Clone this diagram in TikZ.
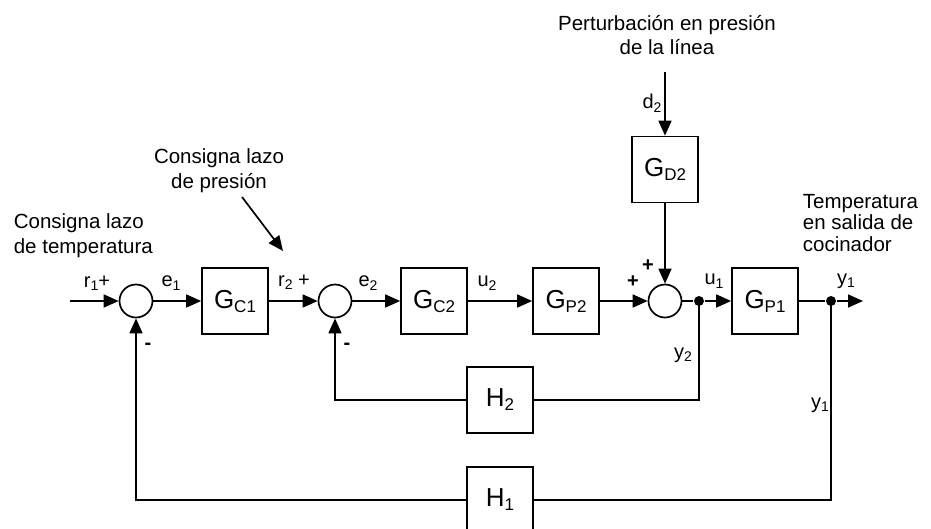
\documentclass[tikz,border=0pt]{standalone}
\usepackage{fontspec}
\setmainfont{Liberation Sans}
\usetikzlibrary{arrows.meta}
\newcommand\blklabel[2]{{\fontsize{26}{26}\selectfont #1}\raisebox{-4pt}{\fontsize{17}{17}\selectfont #2}}
\newcommand\siglabel[2]{{\fontsize{20}{20}\selectfont #1}\raisebox{-3.5pt}{\fontsize{14}{14}\selectfont #2}}
\begin{document}
\begin{tikzpicture}[x=1pt,y=-1pt, line width=1.7pt,
 blockbox/.style={draw, minimum width=66pt, minimum height=66pt, inner sep=0pt},
 sumnode/.style={draw, circle, minimum size=33pt, inner sep=0pt},
 dotnode/.style={circle, fill, minimum size=10pt, inner sep=0pt},
 arr/.style={-{Triangle[length=15pt,width=13pt]}},
 lbl/.style={inner sep=0pt, font=\fontsize{20}{20}\selectfont},
 txt/.style={inner sep=0pt, font=\fontsize{20.5}{24.5}\selectfont, align=center}]
\useasboundingbox (0,0) rectangle (931,528);
\clip (0,0) rectangle (931,528);
% blocks
\node[sumnode] (s1) at (136,301) {};
\node[blockbox] (gc1) at (235,301) {\blklabel{G}{C1}};
\node[sumnode] (s2) at (335,301) {};
\node[blockbox] (gc2) at (434,301) {\blklabel{G}{C2}};
\node[blockbox] (gp2) at (566,301) {\blklabel{G}{P2}};
\node[sumnode] (s3) at (665,301) {};
\node[dotnode] (d1) at (699,301) {};
\node[blockbox] (gp1) at (765,301) {\blklabel{G}{P1}};
\node[dotnode] (d2) at (831,301) {};
\coordinate (out) at (863,301);
\node[blockbox] (gd2) at (665,169.5) {\blklabel{G}{D2}};
\coordinate (din) at (665,72);
\node[blockbox] (h2) at (500,400) {\blklabel{H}{2}};
\node[blockbox] (h1) at (500,500) {\blklabel{H}{1}};
\coordinate (in) at (70,301);
\coordinate (pa) at (242,197);
\coordinate (pb) at (283,251);
% connectors
\draw[arr] (in) -- (s1);
\draw[arr] (s1) -- (gc1);
\draw[arr] (gc1) -- (s2);
\draw[arr] (s2) -- (gc2);
\draw[arr] (gc2) -- (gp2);
\draw[arr] (gp2) -- (s3);
\draw (s3) -- (d1);
\draw[arr] (d1) -- (gp1);
\draw (gp1) -- (d2);
\draw[arr] (d2) -- (out);
\draw[arr] (din) -- (gd2);
\draw[arr] (gd2) -- (s3);
\draw (d1.center) |- (h2.east);
\draw[arr] (h2.west) -| (s2.south);
\draw (d2.center) |- (h1.east);
\draw[arr] (h1.west) -| (s1.south);
\draw[arr] (pa) -- (pb);
% texts
\node[txt] (tpres) at (219,170.5) {Consigna lazo\\de presión};
\node[txt, align=left, anchor=west] (ttemp) at (13,235.5) {Consigna lazo\\de temperatura};
\node[txt] (tpert) at (667,35) {Perturbación en presión\\de la línea};
\node[txt, align=left, anchor=west, font=\fontsize{20.5}{21.5}\selectfont] (tout) at (802,223) {Temperatura\\en salida de\\cocinador};
% labels
\node[lbl] (lr1) at (97,283) {\siglabel{r}{1}+};
\node[lbl] (le1) at (171,283) {\siglabel{e}{1}};
\node[lbl] (lr2) at (294,282) {\siglabel{r}{2} +};
\node[lbl] (le2) at (368,283) {\siglabel{e}{2}};
\node[lbl] (lu2) at (487,283) {\siglabel{u}{2}};
\node[lbl] (lm1) at (148,346) {\textbf{-}};
\node[lbl] (lm2) at (347,346) {\textbf{-}};
\node[lbl] (lp1) at (633,282) {\textbf{+}};
\node[lbl] (lp2) at (648,266) {\textbf{+}};
\node[lbl] (lu1) at (714,281) {\siglabel{u}{1}};
\node[lbl] (ly1) at (846,281) {\siglabel{y}{1}};
\node[lbl] (ly2) at (683,355) {\siglabel{y}{2}};
\node[lbl] (ly1b) at (820,405) {\siglabel{y}{1}};
\node[lbl] (ld2) at (652,103) {\siglabel{d}{2}};
\end{tikzpicture}
\end{document}
